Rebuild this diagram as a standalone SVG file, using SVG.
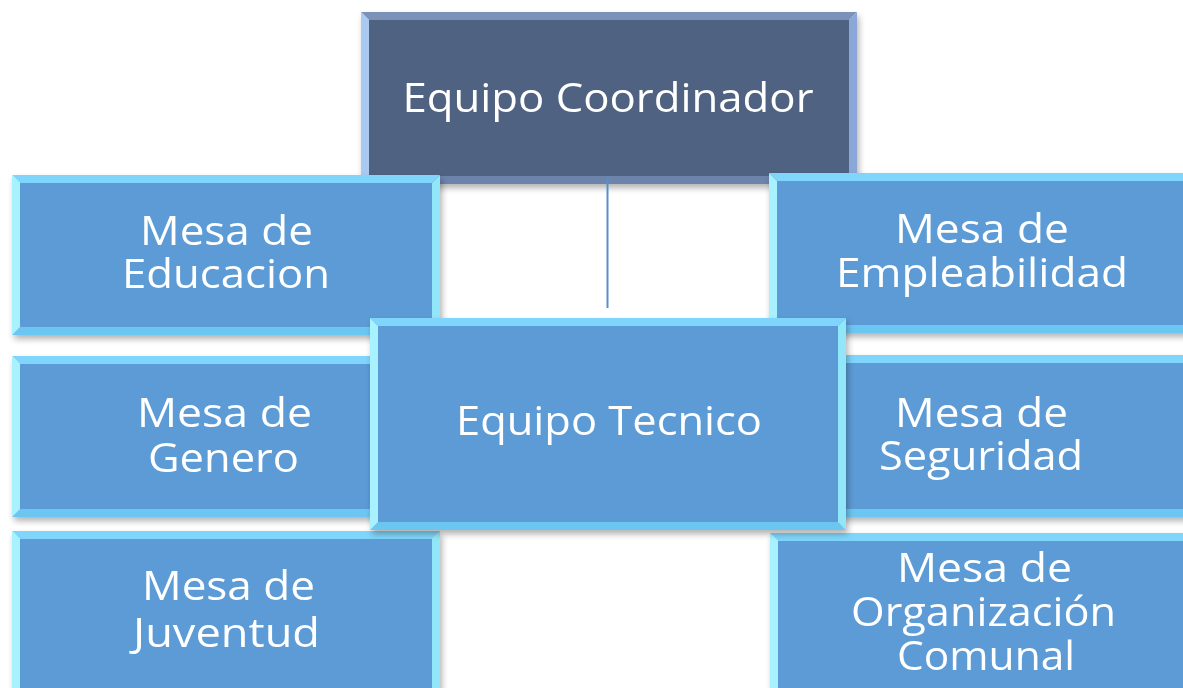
<svg xmlns="http://www.w3.org/2000/svg" width="1183" height="688" viewBox="0 0 1183 688">
<defs>
<filter id="sh" x="-10%" y="-10%" width="125%" height="130%">
<feDropShadow dx="2" dy="4" stdDeviation="3" flood-color="#000" flood-opacity="0.3"/>
</filter>
<style>
.face{fill:#5b9bd5}
.bt{fill:#7fd5fc}
.bl{fill:#a8f2ff}
.br{fill:#92e6fa}
.bb{fill:#6cc6f2}
.dark .face{fill:#4f6281}
.dark .bt{fill:#7b91b8}
.dark .bl{fill:#a9c9f1}
.dark .br{fill:#8aa7d7}
.dark .bb{fill:#6c83ab}
text{font-family:"Open Sans","Liberation Sans",sans-serif;font-size:40px;fill:#ffffff;text-anchor:middle}
.conn{stroke:#5b8fcc;stroke-width:2;fill:none}
</style>
</defs>
<rect width="1183" height="688" fill="#ffffff"/>

<g id="coordinador" class="dark" filter="url(#sh)">
<polygon class="bt" points="361,12 857,12 849,20 369,20"/>
<polygon class="bl" points="361,12 369,20 369,176 361,184"/>
<polygon class="br" points="857,12 857,184 849,176 849,20"/>
<polygon class="bb" points="361,184 369,176 849,176 857,184"/>
<rect class="face" x="369" y="20" width="480" height="156"/>
<text x="608" y="112" textLength="411" lengthAdjust="spacingAndGlyphs">Equipo Coordinador</text>
</g>

<g id="connectors">
<line class="conn" x1="607.5" y1="178" x2="607.5" y2="308"/>
</g>

<g id="educacion" filter="url(#sh)">
<polygon class="bt" points="12,175 440,175 432,183 20,183"/>
<polygon class="bl" points="12,175 20,183 20,327 12,335"/>
<polygon class="br" points="440,175 440,335 432,327 432,183"/>
<polygon class="bb" points="12,335 20,327 432,327 440,335"/>
<rect class="face" x="20" y="183" width="412" height="144"/>
<text x="226.5" y="245" textLength="173" lengthAdjust="spacingAndGlyphs">Mesa de</text>
<text x="226" y="288" textLength="208" lengthAdjust="spacingAndGlyphs">Educacion</text>
</g>

<g id="empleabilidad" filter="url(#sh)">
<polygon class="bt" points="769,173 1195,173 1187,181 777,181"/>
<polygon class="bl" points="769,173 777,181 777,325 769,333"/>
<polygon class="br" points="1195,173 1195,333 1187,325 1187,181"/>
<polygon class="bb" points="769,333 777,325 1187,325 1195,333"/>
<rect class="face" x="777" y="181" width="410" height="144"/>
<text x="982" y="243" textLength="174" lengthAdjust="spacingAndGlyphs">Mesa de</text>
<text x="982" y="287" textLength="292" lengthAdjust="spacingAndGlyphs">Empleabilidad</text>
</g>

<g id="genero" filter="url(#sh)">
<polygon class="bt" points="12,356 420,356 412,364 20,364"/>
<polygon class="bl" points="12,356 20,364 20,509 12,517"/>
<polygon class="br" points="420,356 420,517 412,509 412,364"/>
<polygon class="bb" points="12,517 20,509 412,509 420,517"/>
<rect class="face" x="20" y="364" width="392" height="145"/>
<text x="224.5" y="427" textLength="175" lengthAdjust="spacingAndGlyphs">Mesa de</text>
<text x="223.5" y="472" textLength="151" lengthAdjust="spacingAndGlyphs">Genero</text>
</g>

<g id="seguridad" filter="url(#sh)">
<polygon class="bt" points="780,355 1195,355 1187,363 788,363"/>
<polygon class="bl" points="780,355 788,363 788,509 780,517"/>
<polygon class="br" points="1195,355 1195,517 1187,509 1187,363"/>
<polygon class="bb" points="780,517 788,509 1187,509 1195,517"/>
<rect class="face" x="788" y="363" width="399" height="146"/>
<text x="981.5" y="427" textLength="173" lengthAdjust="spacingAndGlyphs">Mesa de</text>
<text x="981" y="470" textLength="204" lengthAdjust="spacingAndGlyphs">Seguridad</text>
</g>

<g id="juventud" filter="url(#sh)">
<polygon class="bt" points="12,531 440,531 432,539 20,539"/>
<polygon class="bl" points="12,531 20,539 20,693 12,701"/>
<polygon class="br" points="440,531 440,701 432,693 432,539"/>
<polygon class="bb" points="12,701 20,693 432,693 440,701"/>
<rect class="face" x="20" y="539" width="412" height="154"/>
<text x="228.5" y="600" textLength="173" lengthAdjust="spacingAndGlyphs">Mesa de</text>
<text x="226.5" y="647" textLength="187" lengthAdjust="spacingAndGlyphs">Juventud</text>
</g>

<g id="organizacion" filter="url(#sh)">
<polygon class="bt" points="770,533 1195,533 1187,541 778,541"/>
<polygon class="bl" points="770,533 778,541 778,695 770,703"/>
<polygon class="br" points="1195,533 1195,703 1187,695 1187,541"/>
<polygon class="bb" points="770,703 778,695 1187,695 1195,703"/>
<rect class="face" x="778" y="541" width="409" height="154"/>
<text x="984.5" y="582" textLength="175" lengthAdjust="spacingAndGlyphs">Mesa de</text>
<text x="983.5" y="626" textLength="265" lengthAdjust="spacingAndGlyphs">Organización</text>
<text x="986" y="670" textLength="178" lengthAdjust="spacingAndGlyphs">Comunal</text>
</g>

<g id="tecnico" filter="url(#sh)">
<polygon class="bt" points="370,318 846,318 838,326 378,326"/>
<polygon class="bl" points="370,318 378,326 378,522 370,530"/>
<polygon class="br" points="846,318 846,530 838,522 838,326"/>
<polygon class="bb" points="370,530 378,522 838,522 846,530"/>
<rect class="face" x="378" y="326" width="460" height="196"/>
<text x="609" y="435" textLength="306" lengthAdjust="spacingAndGlyphs">Equipo Tecnico</text>
</g>
</svg>
